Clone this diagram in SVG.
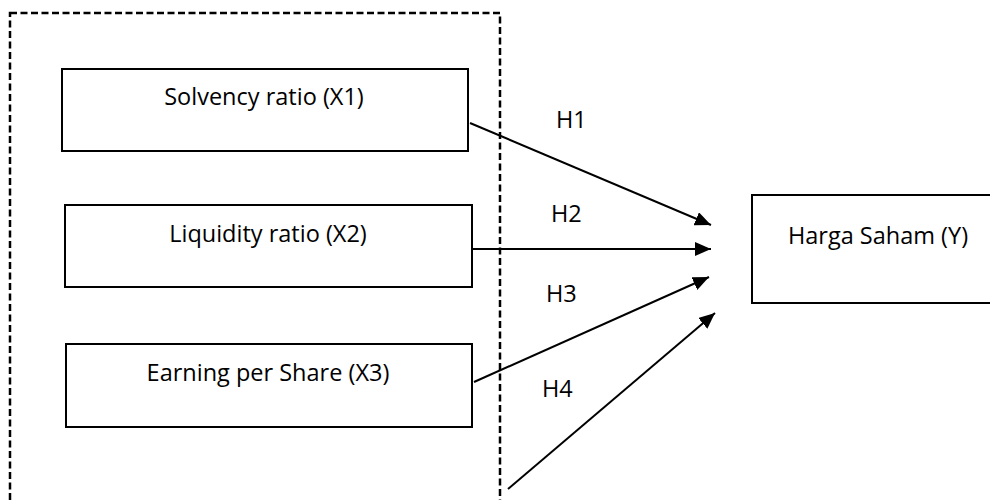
<svg xmlns="http://www.w3.org/2000/svg" width="990" height="500" viewBox="0 0 990 500">
<defs>
<marker id="ah" markerUnits="userSpaceOnUse" markerWidth="16" markerHeight="14" refX="16" refY="7" orient="auto">
<path d="M0,0 L16,7 L0,14 Z" fill="#000"/>
</marker>
<style>
.box{fill:#fff;stroke:#000;stroke-width:2}
.lbl{font-family:"Open Sans","Liberation Sans",sans-serif;font-size:23.5px;fill:#000}
.c{stroke:#000;stroke-width:2;fill:none;marker-end:url(#ah)}
</style>
</defs>
<rect width="990" height="500" fill="#fff"/>
<g id="group-box">
<rect x="10" y="13" width="490" height="520" fill="none" stroke="#000" stroke-width="2.5" stroke-dasharray="7,3.5"/>
</g>
<g id="node-x1">
<rect class="box" x="62" y="69" width="406" height="82"/>
<text class="lbl" x="264" y="105" text-anchor="middle">Solvency ratio (X1)</text>
</g>
<g id="node-x2">
<rect class="box" x="65" y="205" width="407" height="82"/>
<text class="lbl" x="268" y="242" text-anchor="middle">Liquidity ratio (X2)</text>
</g>
<g id="node-x3">
<rect class="box" x="66" y="344" width="406" height="83"/>
<text class="lbl" x="268" y="381" text-anchor="middle">Earning per Share (X3)</text>
</g>
<g id="node-y">
<rect class="box" x="752" y="195" width="260" height="108"/>
<text class="lbl" x="878" y="244" text-anchor="middle">Harga Saham (Y)</text>
</g>
<g id="connectors">
<line class="c" x1="470" y1="123" x2="711" y2="225"/>
<line class="c" x1="472" y1="249" x2="711" y2="249"/>
<line class="c" x1="474" y1="382" x2="709" y2="277"/>
<line class="c" x1="508" y1="489" x2="715" y2="313"/>
<text class="lbl" x="556" y="128">H1</text>
<text class="lbl" x="551" y="222">H2</text>
<text class="lbl" x="546" y="302">H3</text>
<text class="lbl" x="542" y="397">H4</text>
</g>
</svg>
